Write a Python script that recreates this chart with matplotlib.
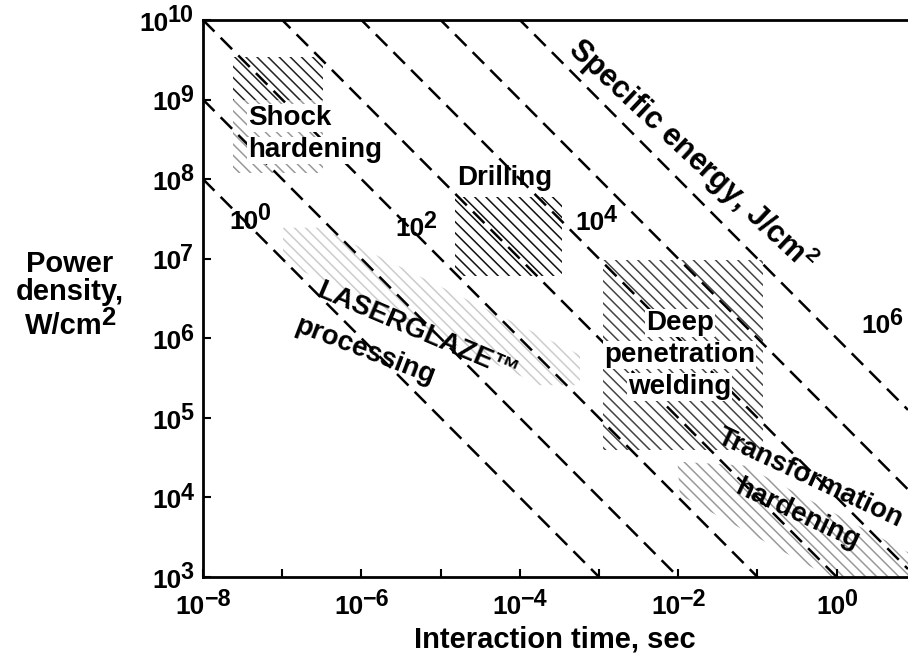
import numpy as np
import matplotlib
matplotlib.use("Agg")
import matplotlib.pyplot as plt
from matplotlib.patches import Polygon
from matplotlib.offsetbox import TextArea, HPacker, VPacker, DrawingArea, AnnotationBbox

plt.rcParams['font.family'] = ['Liberation Sans', 'DejaVu Sans']
plt.rcParams['font.weight'] = 'bold'
plt.rcParams['mathtext.fontset'] = 'custom'
plt.rcParams['mathtext.rm'] = 'Liberation Sans:bold'
plt.rcParams['mathtext.it'] = 'Liberation Sans:bold'
plt.rcParams['mathtext.bf'] = 'Liberation Sans:bold'
plt.rcParams['hatch.linewidth'] = 1.1

# --- data (log10 values) ---
x_range = (-8, 0.9)                  # interaction time, s
y_range = (3, 10)                    # power density, W/cm2
energy_exp = [0, 1, 2, 3, 4, 5, 6]   # specific energy lines, J/cm2
x_tick_exp = list(range(-8, 1))
x_label_exp = [-8, -6, -4, -2, 0]
y_tick_exp = list(range(3, 11))

# process regions, corners as (log t, log P)
shock_dark_t = [-7.62, -6.49, -6.49, -7.62]
shock_dark_p = [9.53, 9.53, 9.0, 9.0]
shock_light_t = [-7.62, -6.49, -6.49, -7.62]
shock_light_p = [9.0, 9.0, 8.08, 8.08]
drill_t = [-4.82, -3.47, -3.47, -4.82]
drill_p = [7.78, 7.78, 6.78, 6.78]
weld_t = [-2.95, -0.93, -0.93, -2.95]
weld_p = [6.98, 6.98, 4.60, 4.60]
glaze_t = [-6.99, -6.52, -3.24, -3.24, -3.75, -6.99]
glaze_p = [7.39, 7.39, 5.79, 5.41, 5.41, 6.96]
trans_t = [-2.01, -1.16, 0.9, 0.9, -0.09, -1.98]
trans_p = [4.45, 4.40, 3.31, 3.0, 3.0, 4.03]

TXT = 20
TICK = 19


def power_box(base, exp, size=TICK, raise_pt=6):
    b = TextArea(base, textprops=dict(size=size, weight='bold'))
    e = TextArea(exp, textprops=dict(size=size * 0.88, weight='bold'))
    e = VPacker(children=[e, DrawingArea(0, raise_pt)], align='left', pad=0, sep=0)
    return HPacker(children=[b, e], align='bottom', pad=0, sep=-1)


def put(ax, box, xy, coords, offset=(0, 0), align=(0.5, 0.5)):
    ab = AnnotationBbox(box, xy, xycoords=coords, xybox=offset, boxcoords='offset points',
                        box_alignment=align, frameon=False, pad=0, annotation_clip=False)
    ax.add_artist(ab)


def region(ax, tt, pp, color, hatch):
    pts = np.column_stack([10.0 ** np.array(tt), 10.0 ** np.array(pp)])
    ax.add_patch(Polygon(pts, closed=True, facecolor='none', edgecolor=color,
                         lw=0, hatch=hatch, zorder=1))


def label(ax, lt, lp, s, **kw):
    ax.text(10 ** lt, 10 ** lp, s, ha='center', va='center', size=TXT, zorder=4,
            bbox=dict(facecolor='white', edgecolor='none', pad=0.5), **kw)


fig = plt.figure(figsize=(9.08, 6.64), dpi=100)
ax = fig.add_axes([203 / 908, 87 / 664, 705 / 908, 557 / 664])
ax.set_xscale('log')
ax.set_yscale('log')
ax.set_xlim(10.0 ** x_range[0], 10.0 ** x_range[1])
ax.set_ylim(10.0 ** y_range[0], 10.0 ** y_range[1])

# constant specific energy lines P = E / t
t = np.logspace(x_range[0], x_range[1], 50)
for e in energy_exp:
    ax.plot(t, 10.0 ** e / t, color='k', lw=1.8, ls=(0, (6.5, 3.5)), zorder=3)

mid = '\\' * 3
region(ax, shock_dark_t, shock_dark_p, '#222222', mid)
region(ax, shock_light_t, shock_light_p, '#999999', mid)
region(ax, drill_t, drill_p, '#111111', mid)
region(ax, weld_t, weld_p, '#444444', mid)
region(ax, glaze_t, glaze_p, '#cccccc', mid)
region(ax, trans_t, trans_p, '#999999', mid)

# axes frame
for side in ['left', 'bottom', 'top']:
    ax.spines[side].set_linewidth(2.0)
ax.spines['right'].set_visible(False)
ax.set_xticks([10.0 ** k for k in x_tick_exp])
ax.set_yticks([10.0 ** k for k in y_tick_exp])
ax.minorticks_off()
ax.xaxis.set_major_formatter(plt.NullFormatter())
ax.yaxis.set_major_formatter(plt.NullFormatter())
ax.tick_params(direction='in', length=6, width=1.5, top=False, right=False)

for k in x_label_exp:
    lab = str(k).replace('-', '\u2212')
    put(ax, power_box('10', lab), (10.0 ** k, 0), ax.get_xaxis_transform(),
        offset=(0, -8), align=(0.5, 1.0))
for k in y_tick_exp:
    put(ax, power_box('10', str(k)), (0, 10.0 ** k), ax.get_yaxis_transform(),
        offset=(-7, 0), align=(1.0, 0.5))

# energy labels on the lines
for k, (lt, lp) in zip([0, 2, 4, 6], [(-7.41, 7.51), (-5.31, 7.42), (-3.04, 7.49), (0.57, 6.2)]):
    put(ax, power_box('10', str(k)), (10.0 ** lt, 10.0 ** lp), 'data')

# process labels
ax.text(10 ** -7.43, 10 ** 8.77, 'Shock', ha='left', va='center', size=TXT, zorder=4,
        bbox=dict(facecolor='white', edgecolor='none', pad=0.5))
ax.text(10 ** -7.43, 10 ** 8.36, 'hardening', ha='left', va='center', size=TXT, zorder=4,
        bbox=dict(facecolor='white', edgecolor='none', pad=0.5))
ax.text(10 ** -4.19, 10 ** 8.01, 'Drilling', ha='center', va='center', size=TXT, zorder=4)
label(ax, -1.98, 6.19, 'Deep')
label(ax, -1.98, 5.79, 'penetration')
label(ax, -1.98, 5.39, 'welding')
ax.text(10 ** -5.29, 10 ** 6.08, 'LASERGLAZE\u2122', ha='center', va='center', size=TXT,
        rotation=-23, rotation_mode='anchor', zorder=4)
ax.text(10 ** -5.96, 10 ** 5.83, 'processing', ha='center', va='center', size=TXT,
        rotation=-21, rotation_mode='anchor', zorder=4)
ax.text(10 ** -0.34, 10 ** 4.24, 'Transformation', ha='center', va='center', size=TXT,
        rotation=-25, rotation_mode='anchor', zorder=4)
ax.text(10 ** -0.5, 10 ** 3.78, 'hardening', ha='center', va='center', size=TXT,
        rotation=-25, rotation_mode='anchor', zorder=4)
ax.text(10 ** -1.83, 10 ** 8.30, 'Specific energy, J/cm$^2$', ha='center', va='center',
        size=22, rotation=-43, rotation_mode='anchor', zorder=4)

# axis titles
fig.text(555 / 908, 1 - 640 / 664, 'Interaction time, sec', ha='center', va='center', size=21)
ylab = VPacker(children=[TextArea('Power', textprops=dict(size=21, weight='bold')),
                         TextArea('density,', textprops=dict(size=21, weight='bold')),
                         power_box('W/cm', '2', size=21, raise_pt=7)],
               align='center', pad=0, sep=0)
put(ax, ylab, (70 / 908, 1 - 295 / 664), 'figure fraction')

fig.savefig('out.png', dpi=100)
